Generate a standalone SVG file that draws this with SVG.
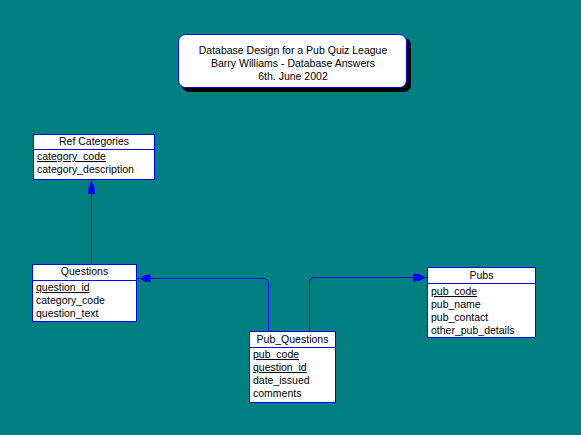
<svg xmlns="http://www.w3.org/2000/svg" width="581" height="435" viewBox="0 0 581 435">
<defs>
<style>
text{font-family:"Liberation Sans",Arial,sans-serif;font-size:10.5px;fill:#000}
.box{fill:#fff;stroke:#0000ff;stroke-width:1}
.sep{stroke:#0000ff;stroke-width:1}
.hd{text-anchor:middle}
.pk{text-decoration:underline}
.conn{fill:none;stroke:#0000ff;stroke-width:1}
.ah{fill:#0000ff}
</style>
</defs>
<rect width="581" height="435" fill="#008080"/>
<g id="title">
<rect x="182" y="38" width="229" height="54" rx="7" fill="#000"/>
<rect x="178.5" y="34.5" width="228" height="53" rx="7" class="box"/>
<text x="293" y="54" class="hd">Database Design for a Pub Quiz League</text>
<text x="293" y="67" class="hd">Barry Williams - Database Answers</text>
<text x="293" y="80" class="hd">6th. June 2002</text>
</g>
<g id="connectors">
<path class="conn" d="M91.5,179 V264.5"/>
<path class="ah" d="M91.5,180 L94.5,188 L95,194 L88,194 L88.5,188 Z"/>
<path class="conn" d="M136,278.5 H263 Q268.5,278.5 268.5,284 V331"/>
<path class="ah" d="M140,278.5 L145,275 L150.5,274 L150.5,282 L145,282 Z"/>
<path class="conn" d="M309.5,331 V283 Q309.5,277.5 315,277.5 H427"/>
<path class="ah" d="M426,277.5 L419,274 L413,273.5 L413,281.5 L419,281 Z"/>
</g>
<g id="ref-categories">
<rect x="33.5" y="134.5" width="121" height="45" class="box"/>
<line x1="33.5" y1="149.5" x2="154.5" y2="149.5" class="sep"/>
<text x="94" y="145" class="hd">Ref Categories</text>
<text x="37" y="160" class="pk">category_code</text>
<text x="37" y="173">category_description</text>
</g>
<g id="questions">
<rect x="32.5" y="264.5" width="104" height="57" class="box"/>
<line x1="32.5" y1="280.5" x2="136.5" y2="280.5" class="sep"/>
<text x="84.5" y="275" class="hd">Questions</text>
<text x="36" y="291" class="pk">question_id</text>
<text x="36" y="304">category_code</text>
<text x="36" y="317">question_text</text>
</g>
<g id="pub-questions">
<rect x="249.5" y="331.5" width="86" height="71" class="box"/>
<line x1="249.5" y1="347.5" x2="335.5" y2="347.5" class="sep"/>
<text x="292.5" y="343" class="hd">Pub_Questions</text>
<text x="253" y="358" class="pk">pub_code</text>
<text x="253" y="371" class="pk">question_id</text>
<text x="253" y="384">date_issued</text>
<text x="253" y="397">comments</text>
</g>
<g id="pubs">
<rect x="427.5" y="267.5" width="108" height="70" class="box"/>
<line x1="427.5" y1="283.5" x2="535.5" y2="283.5" class="sep"/>
<text x="481.5" y="279" class="hd">Pubs</text>
<text x="431" y="295" class="pk">pub_code</text>
<text x="431" y="308">pub_name</text>
<text x="431" y="321">pub_contact</text>
<text x="431" y="334">other_pub_details</text>
</g>
</svg>
